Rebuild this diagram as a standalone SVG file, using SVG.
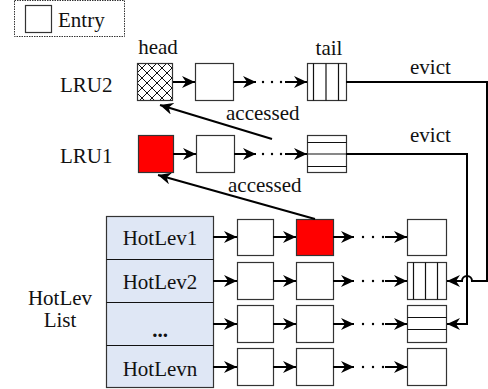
<svg xmlns="http://www.w3.org/2000/svg" width="488" height="389" viewBox="0 0 488 389" font-family="'Liberation Serif', 'Times New Roman', Times, serif">
<style>
text{font-size:21px;fill:#111}
.box{fill:#fff;stroke:#333;stroke-width:1.2}
.red{fill:#f00;stroke:#333;stroke-width:1.2}
.in{stroke:#111;stroke-width:1.2;fill:none}
.con{stroke:#000;stroke-width:2;fill:none}
.arr{stroke:#000;stroke-width:2;fill:none;marker-end:url(#ah)}
.dot{fill:#000}
.lst{fill:#dfe7f5;stroke:#333;stroke-width:1.2}
.mid{text-anchor:middle}
</style>
<defs>
<marker id="ah" markerUnits="userSpaceOnUse" markerWidth="14" markerHeight="12" refX="13" refY="6" orient="auto">
<path d="M0,0 L13,6 L0,12 L4,6 Z" fill="#000"/>
</marker>
<pattern id="hatch" patternUnits="userSpaceOnUse" width="10" height="10" x="137" y="63">
<path d="M0,0 L10,10 M10,0 L0,10 M-1,9 L1,11 M9,-1 L11,1" stroke="#111" stroke-width="1"/>
</pattern>
</defs>

<g id="legend">
<rect x="14.5" y="0.5" width="110" height="36" fill="none" stroke="#333" stroke-width="1" stroke-dasharray="1.5,1"/>
<rect class="box" x="25.5" y="5.5" width="26" height="27"/>
<text x="58" y="27">Entry</text>
</g>

<g id="labels">
<text class="mid" x="158" y="54">head</text>
<text class="mid" x="329" y="55">tail</text>
<text x="60" y="92">LRU2</text>
<text x="60" y="163">LRU1</text>
<text x="226" y="120">accessed</text>
<text x="228" y="192">accessed</text>
<text x="410" y="74">evict</text>
<text x="410" y="142">evict</text>
<text class="mid" x="60" y="305">HotLev</text>
<text class="mid" x="60" y="327">List</text>
</g>

<g id="lru2">
<rect x="137.5" y="63.5" width="35" height="37" fill="url(#hatch)" stroke="#333" stroke-width="1.2"/>
<rect class="box" x="195.5" y="63.5" width="38" height="37"/>
<rect class="box" x="307.5" y="63.5" width="39" height="37"/>
<path class="in" d="M313.5,63.5V100.5 M326,63.5V100.5 M338.5,63.5V100.5"/>
</g>

<g id="lru1">
<rect class="red" x="138.5" y="135.5" width="35" height="37"/>
<rect class="box" x="196.5" y="135.5" width="38" height="37"/>
<rect class="box" x="307.5" y="135.5" width="39" height="37"/>
<path class="in" d="M307.5,142.5H346.5 M307.5,154H346.5 M307.5,166.5H346.5"/>
</g>

<g id="hotlev-list">
<rect class="lst" x="106.5" y="216.5" width="107" height="171"/>
<path class="in" d="M106.5,259.5H213.5 M106.5,302.5H213.5 M106.5,345.5H213.5"/>
<text class="mid" x="160" y="245">HotLev1</text>
<text class="mid" x="160" y="289">HotLev2</text>
<text class="mid" x="160" y="337" font-weight="bold">...</text>
<text class="mid" x="160" y="376">HotLevn</text>
</g>

<g id="row1">
<rect class="box" x="237.5" y="219.5" width="36" height="36"/>
<rect class="red" x="296.5" y="219.5" width="37" height="36"/>
<rect class="box" x="407.5" y="219.5" width="39" height="36"/>
</g>
<g id="row2">
<rect class="box" x="237.5" y="262.5" width="36" height="37"/>
<rect class="box" x="296.5" y="262.5" width="37" height="37"/>
<rect class="box" x="407.5" y="262.5" width="39" height="37"/>
<path class="in" d="M413.5,262.5V299.5 M425.5,262.5V299.5 M437.5,262.5V299.5"/>
</g>
<g id="row3">
<rect class="box" x="237.5" y="305.5" width="36" height="37"/>
<rect class="box" x="296.5" y="305.5" width="37" height="37"/>
<rect class="box" x="407.5" y="305.5" width="39" height="37"/>
<path class="in" d="M407.5,317.5H446.5 M407.5,329.5H446.5"/>
</g>
<g id="row4">
<rect class="box" x="237.5" y="348.5" width="36" height="37"/>
<rect class="box" x="296.5" y="348.5" width="37" height="37"/>
<rect class="box" x="407.5" y="348.5" width="39" height="37"/>
</g>

<g id="connectors">
<path class="arr" d="M173,82H195"/>
<path class="arr" d="M233,82H256"/>
<path class="arr" d="M285,82H307"/>
<circle class="dot" cx="263" cy="82" r="1.2"/><circle class="dot" cx="272" cy="82" r="1.2"/><circle class="dot" cx="281" cy="82" r="1.2"/>
<path class="arr" d="M173,154H196"/>
<path class="arr" d="M234,154H256"/>
<path class="arr" d="M285,154H307"/>
<circle class="dot" cx="263" cy="154" r="1.2"/><circle class="dot" cx="272" cy="154" r="1.2"/><circle class="dot" cx="281" cy="154" r="1.2"/>
<path class="arr" d="M272,139L160,105"/>
<path class="arr" d="M315,219L158,175"/>
<path class="arr" d="M346,82H487V281H472A5,5 0 0 0 462,281H447"/>
<path class="arr" d="M346,154H467V324H447"/>
<path class="arr" d="M213,237H237"/><path class="arr" d="M273,237H296"/><path class="arr" d="M333,237H354"/><path class="arr" d="M385,237H407"/>
<path class="arr" d="M213,281H237"/><path class="arr" d="M273,281H296"/><path class="arr" d="M333,281H354"/><path class="arr" d="M385,281H407"/>
<path class="arr" d="M213,324H237"/><path class="arr" d="M273,324H296"/><path class="arr" d="M333,324H354"/><path class="arr" d="M385,324H407"/>
<path class="arr" d="M213,367H237"/><path class="arr" d="M273,367H296"/><path class="arr" d="M333,367H354"/><path class="arr" d="M385,367H407"/>
<circle class="dot" cx="363" cy="237" r="1.2"/><circle class="dot" cx="373" cy="237" r="1.2"/><circle class="dot" cx="383" cy="237" r="1.2"/>
<circle class="dot" cx="363" cy="281" r="1.2"/><circle class="dot" cx="373" cy="281" r="1.2"/><circle class="dot" cx="383" cy="281" r="1.2"/>
<circle class="dot" cx="363" cy="324" r="1.2"/><circle class="dot" cx="373" cy="324" r="1.2"/><circle class="dot" cx="383" cy="324" r="1.2"/>
<circle class="dot" cx="363" cy="367" r="1.2"/><circle class="dot" cx="373" cy="367" r="1.2"/><circle class="dot" cx="383" cy="367" r="1.2"/>
</g>
</svg>
